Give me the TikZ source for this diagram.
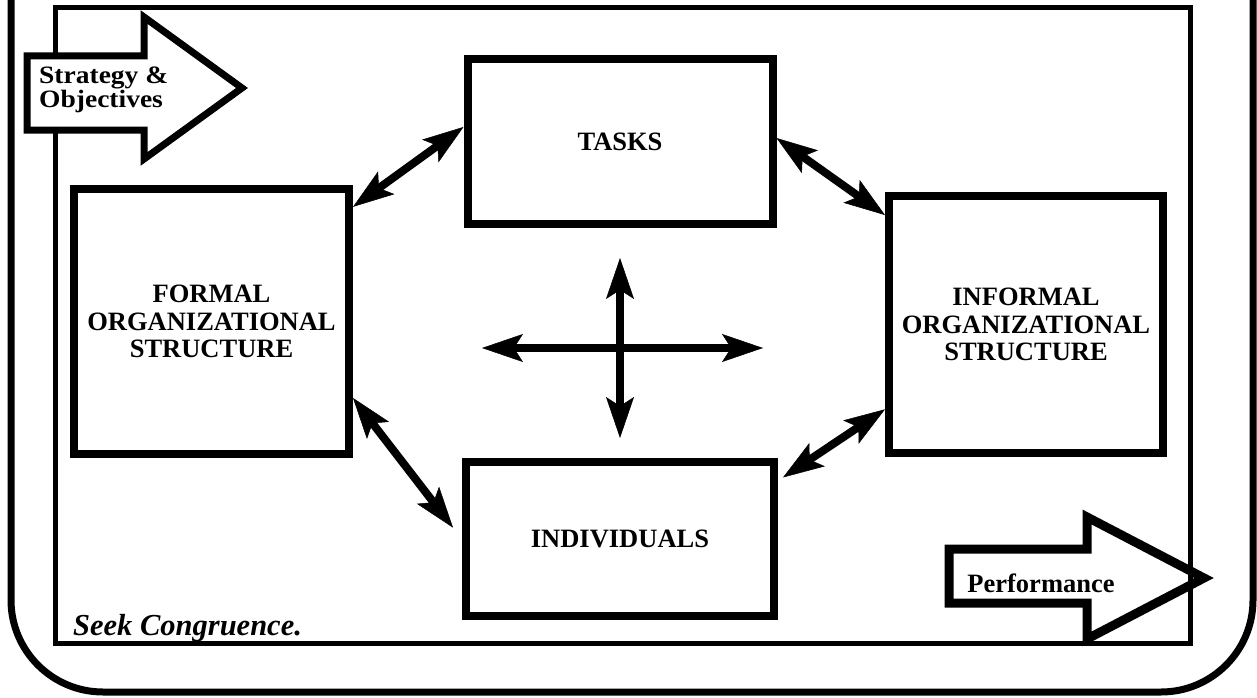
\documentclass[tikz,border=0pt]{standalone}
\usepackage{fontspec}
\setmainfont{Liberation Serif}
\newfontfamily\widefont[FakeStretch=1.1]{Liberation Serif}
\usetikzlibrary{arrows.meta,calc}

\newcommand\diagfont{\fontsize{26.5}{27.5}\selectfont\bfseries}
\newcommand\tagfont{\widefont\fontsize{25}{22}\selectfont\bfseries}

\begin{document}
\begin{tikzpicture}[x=1pt,y=-1pt,
  box/.style={draw, line width=8pt, fill=white, align=center,
    font=\diagfont, inner sep=0pt},
  link/.style={line width=8pt,
    {Stealth[length=41pt,width=28pt,inset=9pt,line width=0.5pt]}-{Stealth[length=41pt,width=28pt,inset=9pt,line width=0.5pt]}},
  bigarrow/.style={line width=#1, miter limit=20},
]
\useasboundingbox (0,0) rectangle (1257,698);
\clip (0,0) rectangle (1257,698);

% outer rounded frame, open at the top
\draw[line width=7pt, rounded corners=92pt] (11,-30) -- (11,692) -- (1253,692) -- (1253,-30);

% inner frame
\draw[line width=5pt] (55,8) rectangle (1190,643);

% the four elements
\node[box, minimum width=305pt, minimum height=165pt] (tasks) at (620,141.5) {TASKS};
\node[box, minimum width=275pt, minimum height=265pt] (formal) at (211.5,321.5)
  {FORMAL\\ORGANIZATIONAL\\STRUCTURE};
\node[box, minimum width=274pt, minimum height=257pt] (informal) at (1026,324.5)
  {INFORMAL\\ORGANIZATIONAL\\STRUCTURE};
\node[box, minimum width=308pt, minimum height=154pt] (individuals) at (620,539) {INDIVIDUALS};

% links between the elements
\draw[link] ($(tasks.north west)!0.416!(tasks.south west)$) --
            ($(formal.north east)!0.08!(formal.south east)$);
\draw[link] ($(tasks.north east)!0.48!(tasks.south east)$) --
            ($(informal.north west)!0.087!(informal.south west)$);
\draw[link] ($(formal.north east)!0.78!(formal.south east)$) --
            ($(individuals.north west)!0.43!(individuals.south west)+(-9,0)$);
\draw[link] ($(informal.north west)!0.82!(informal.south west)$) --
            ($(individuals.north east)!0.12!(individuals.south east)+(5,0)$);

% central cross
\coordinate (hl) at (482,348);
\coordinate (hr) at (763,348);
\coordinate (vt) at (620,258);
\coordinate (vb) at (620,438);
\draw[link] (hl) -- (hr);
\draw[link] (vt) -- (vb);

% input arrow
\draw[bigarrow=7pt, fill=white] (27,56) -- (144,56) -- (144,17) -- (242,88)
  -- (144,159) -- (144,130) -- (27,130) -- cycle;
\node[font=\tagfont, align=left, anchor=west, inner sep=0pt] (strategy) at (39,90)
  {Strategy \&\\Objectives};

% output arrow
\draw[bigarrow=9pt] (949,549) -- (1087,549) -- (1087,517) -- (1204,578)
  -- (1087,639) -- (1087,603) -- (949,603) -- cycle;
\node[font=\fontsize{26.5}{28}\selectfont\bfseries, anchor=base, inner sep=0pt]
  (performance) at (1041,592) {Performance};

\node[font=\fontsize{30.5}{31}\selectfont\bfseries\itshape, anchor=base west, inner sep=0pt]
  (motto) at (73,635) {Seek Congruence.};
\end{tikzpicture}
\end{document}
